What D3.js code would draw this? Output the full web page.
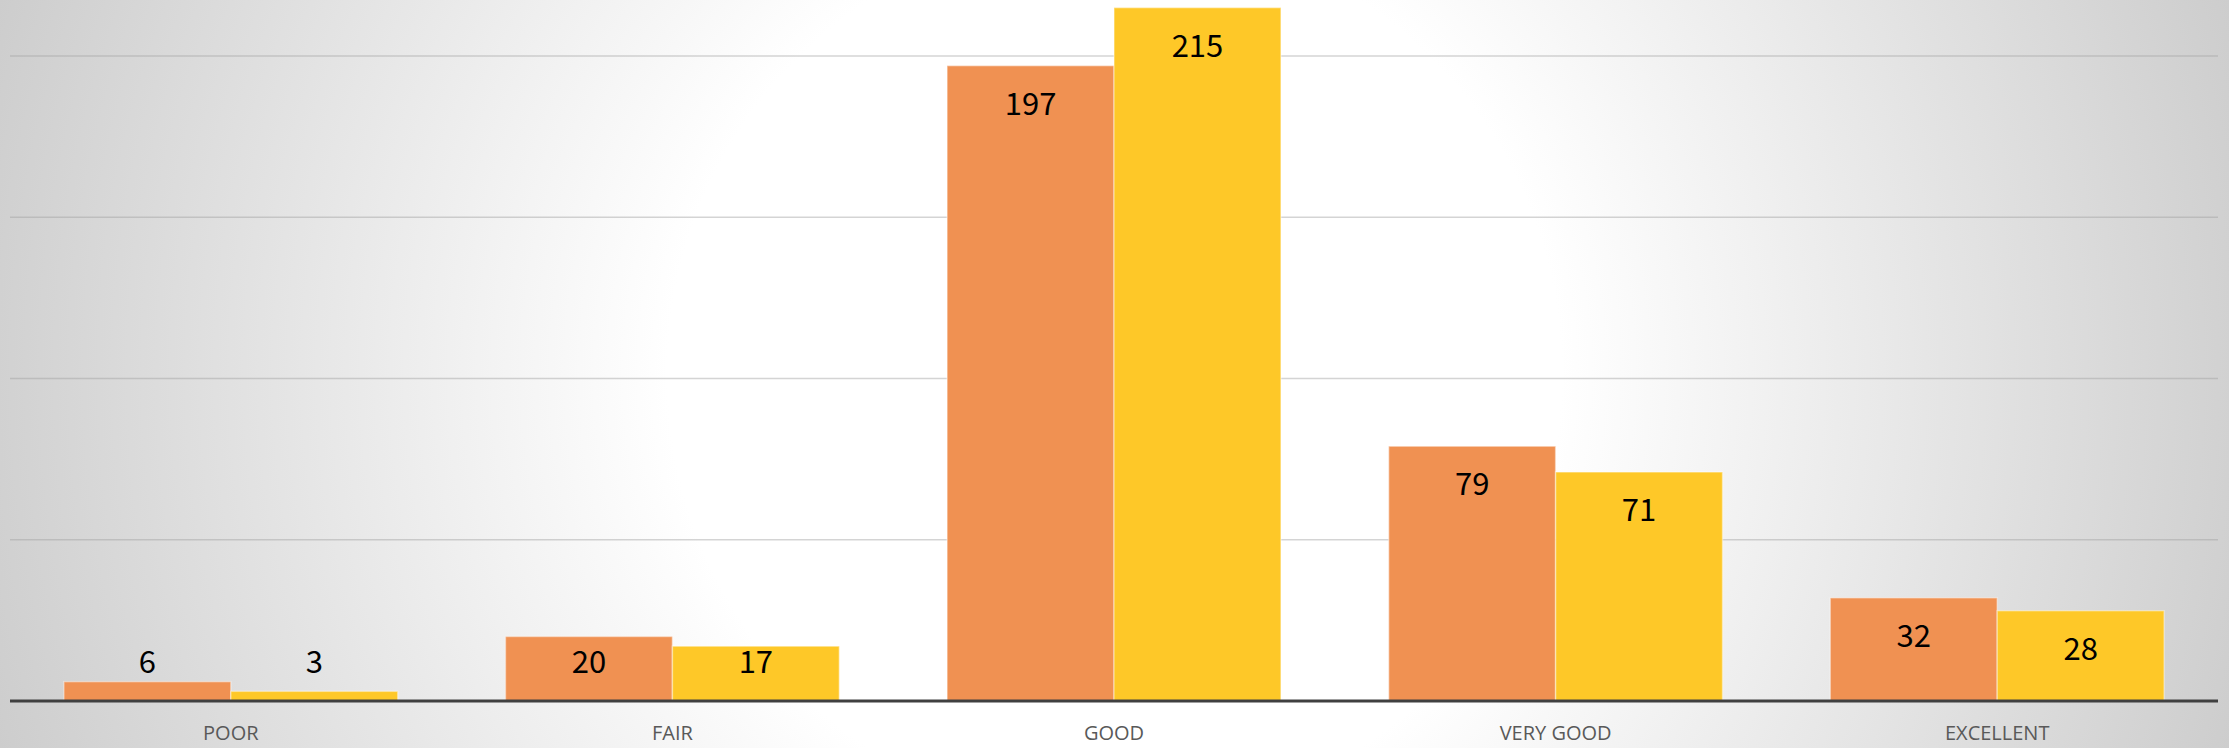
<html>
<head>
<script src="https://d3js.org/d3.v7.min.js"></script>
<style>
  body { margin: 0; }
</style>
</head>
<body>
<script>
// DATA
var categories = ["POOR", "FAIR", "GOOD", "VERY GOOD", "EXCELLENT"];
var seriesNames = ["Series 1", "Series 2"];
var series1 = [6, 20, 197, 79, 32];
var series2 = [3, 17, 215, 71, 28];
var gridValues = [50, 100, 150, 200];

var W = 2229, H = 748;
var left = 10, right = 2218, baseY = 701;

var svg = d3.select("body").append("svg")
  .attr("width", W).attr("height", H);

// background radial gradient
var defs = svg.append("defs");
var grad = defs.append("radialGradient")
  .attr("id", "bg")
  .attr("gradientUnits", "userSpaceOnUse")
  .attr("cx", W / 2).attr("cy", H / 2).attr("r", 1176);
grad.append("stop").attr("offset", "0%").attr("stop-color", "#ffffff");
grad.append("stop").attr("offset", "38%").attr("stop-color", "#ffffff");
grad.append("stop").attr("offset", "100%").attr("stop-color", "#cdcdcd");

svg.append("rect").attr("width", W).attr("height", H).attr("fill", "url(#bg)");

// scales
var x0 = d3.scaleBand().domain(categories).range([left, right])
  .paddingInner(0.244).paddingOuter(0.122);
var x1 = d3.scaleBand().domain(seriesNames).range([0, x0.bandwidth()]);
var y = d3.scaleLinear().domain([0, 200]).range([baseY, 56]);

// gridlines
svg.append("g").selectAll("line")
  .data(gridValues)
  .enter().append("line")
  .attr("x1", left).attr("x2", right)
  .attr("y1", function(d){ return y(d); })
  .attr("y2", function(d){ return y(d); })
  .style("stroke", "#a0a0a0")
  .style("stroke-opacity", 0.45)
  .style("stroke-width", 1.5);

var colors = { "Series 1": "#f09152", "Series 2": "#fec828" };

var rows = [];
categories.forEach(function(c, i){
  rows.push({ cat: c, s: "Series 1", v: series1[i] });
  rows.push({ cat: c, s: "Series 2", v: series2[i] });
});

// bars
svg.append("g").selectAll("rect")
  .data(rows)
  .enter().append("rect")
  .attr("x", function(d){ return x0(d.cat) + x1(d.s); })
  .attr("y", function(d){ return y(d.v); })
  .attr("width", x1.bandwidth())
  .attr("height", function(d){ return baseY - y(d.v); })
  .style("fill", function(d){ return colors[d.s]; })
  .style("stroke", "#ffffff")
  .style("stroke-opacity", 0.4)
  .style("stroke-width", 1.5);

// value labels: inside end, but never lower than a fixed line above the axis
svg.append("g").selectAll("text")
  .data(rows)
  .enter().append("text")
  .attr("x", function(d){ return x0(d.cat) + x1(d.s) + x1.bandwidth() / 2; })
  .attr("y", function(d){ return Math.min(y(d.v) + 38, baseY - 39); })
  .attr("dy", "0.36em")
  .attr("text-anchor", "middle")
  .attr("font-family", "'Noto Sans CJK JP', 'Noto Sans', sans-serif")
  .attr("font-size", 31)
  .style("fill", "#000000")
  .text(function(d){ return d.v; });

// baseline axis
svg.append("line")
  .attr("x1", left).attr("x2", right)
  .attr("y1", baseY).attr("y2", baseY)
  .style("stroke", "#404040")
  .style("stroke-width", 3);

// category labels
svg.append("g").selectAll("text")
  .data(categories)
  .enter().append("text")
  .attr("x", function(d){ return x0(d) + x0.bandwidth() / 2; })
  .attr("y", 740)
  .attr("text-anchor", "middle")
  .attr("font-family", "'Open Sans', sans-serif")
  .attr("font-size", 20)
  .style("fill", "#595959")
  .text(function(d){ return d; });
</script>
</body>
</html>
